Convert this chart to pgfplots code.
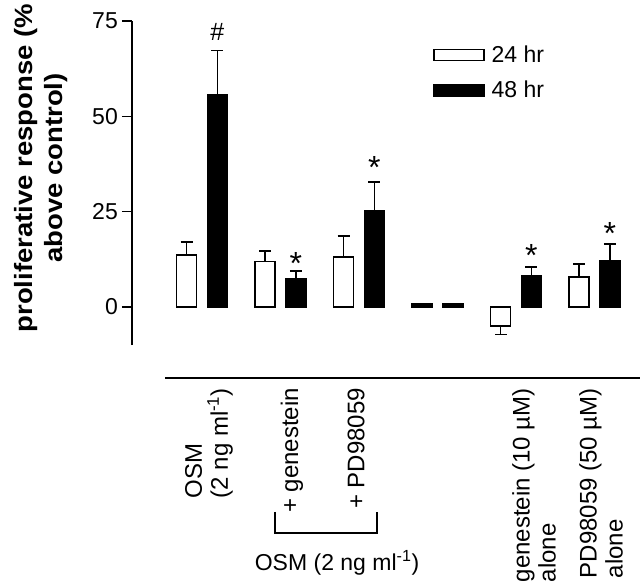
\documentclass[border=0pt]{standalone}
\usepackage{fontspec}
\setmainfont{Liberation Sans}
\newfontfamily\ylabfont{Liberation Sans}[FakeStretch=1.1]
\usepackage{pgfplots}
\pgfplotsset{compat=1.18}
\begin{document}
\begin{tikzpicture}
\useasboundingbox (0bp,0bp) rectangle (640bp,587bp);
\begin{axis}[
  at={(132bp,242bp)}, anchor=south west,
  scale only axis, width=504bp, height=324bp,
  xmin=-0.8917, xmax=5.5287, ymin=-10, ymax=75,
  clip=false,
  axis y line*=left, axis x line*=bottom,
  x axis line style={draw=none},
  y axis line style={line width=1.5bp, -},
  ytick={0,25,50,75},
  tick align=outside, major tick length=10bp,
  ytick style={line width=1.5bp, black},
  xtick style={draw=none},
  xtick={0.089,1.146,1.962,4.229,5.083},
  xticklabels={{OSM\\(2 ng ml\textsuperscript{-1})}, {+ genestein}, {+ PD98059}, {genestein (10 µM)\\alone}, {PD98059 (50 µM)\\alone}},
  xticklabel style={rotate=90, anchor=east, align=left, inner sep=0pt, font=\fontsize{24bp}{26bp}\selectfont},
  xticklabel shift=33bp,
  yticklabel style={inner sep=0pt, xshift=-4bp, font=\fontsize{23bp}{24bp}\selectfont},
  /pgf/number format/assume math mode=true,
  ylabel={proliferative response (\%\\above control)},
  every axis y label/.style={at={(axis description cs:-0.1796,0.546)}, rotate=90, anchor=center},
  ylabel style={align=center, font=\ylabfont\bfseries\fontsize{25bp}{30bp}\selectfont, inner sep=0pt},
  legend style={at={(axis description cs:0.597,0.923)}, anchor=north west, draw=none, fill=none,
    inner sep=0pt, row sep=17bp, column sep=7bp,
    font=\fontsize{23bp}{25bp}\selectfont,
    nodes={inner sep=0pt}},
  legend cell align=left,
]
\addplot[ybar, bar width=20bp, bar shift=0bp, fill=white, draw=black, line width=1.5bp,
  legend image code/.code={\draw[fill=white, draw=black, line width=1.5bp] (0bp,-5.5bp) rectangle (50bp,5.5bp);},
  error bars/.cd, y dir=both, y explicit, error bar style={line width=1.5bp, black},
  error mark options={rotate=90, mark size=6bp, line width=1.5bp, black}]
  table[x=x, y=y, y error plus=ep, y error minus=em] {
  x y ep em
  -0.1943 13.6 3.4 0
  0.8057 11.9 2.8 0
  1.8057 13.1 5.5 0
  3.8057 -5.0 0 2.3
  4.8057 7.9 3.4 0
  };
\addlegendentry{\fontsize{23bp}{25bp}\selectfont 24 hr}
\addplot[ybar, bar width=20bp, bar shift=0bp, fill=black, draw=black, line width=1.5bp,
  legend image code/.code={\draw[fill=black, draw=black, line width=1.5bp] (0bp,-5.5bp) rectangle (50bp,5.5bp);},
  error bars/.cd, y dir=both, y explicit, error bar style={line width=1.5bp, black},
  error mark options={rotate=90, mark size=6bp, line width=1.5bp, black}]
  table[x=x, y=y, y error plus=ep, y error minus=em] {
  x y ep em
  0.1943 55.6 11.6 0
  1.1943 7.3 2.1 0
  2.1943 25.2 7.6 0
  4.1943 8.1 2.4 0
  5.1943 12.1 4.4 0
  };
\addlegendentry{\fontsize{23bp}{25bp}\selectfont 48 hr}
% group with no response (24 hr and 48 hr both ~0)
\addplot[ybar, bar width=20bp, bar shift=0bp, fill=black, draw=black, line width=1.5bp, forget plot]
  coordinates {(2.8057,0.7) (3.1943,0.7)};
\node[anchor=north, inner sep=0pt, font=\fontsize{25bp}{25bp}\selectfont] at (axis cs:0.194,74.5) {\#};
\node[anchor=north, inner sep=0pt, font=\fontsize{32bp}{32bp}\selectfont] at (axis cs:1.194,14.4) {*};
\node[anchor=north, inner sep=0pt, font=\fontsize{32bp}{32bp}\selectfont] at (axis cs:2.194,39.4) {*};
\node[anchor=north, inner sep=0pt, font=\fontsize{32bp}{32bp}\selectfont] at (axis cs:4.194,16.3) {*};
\node[anchor=north, inner sep=0pt, font=\fontsize{32bp}{32bp}\selectfont] at (axis cs:5.194,22.3) {*};
\draw[line width=1.5bp] (axis cs:-0.471,-18.6) -- (axis cs:5.6,-18.6);
\draw[line width=1.5bp] (axis cs:0.930,-53.8) -- (axis cs:0.930,-59.3) -- (axis cs:2.229,-59.3) -- (axis cs:2.229,-53.8);
\node[anchor=base, inner sep=0pt, font=\fontsize{23bp}{25bp}\selectfont] at (axis cs:1.720,-69.2) {OSM (2 ng ml\textsuperscript{-1})};
\end{axis}
\end{tikzpicture}
\end{document}
